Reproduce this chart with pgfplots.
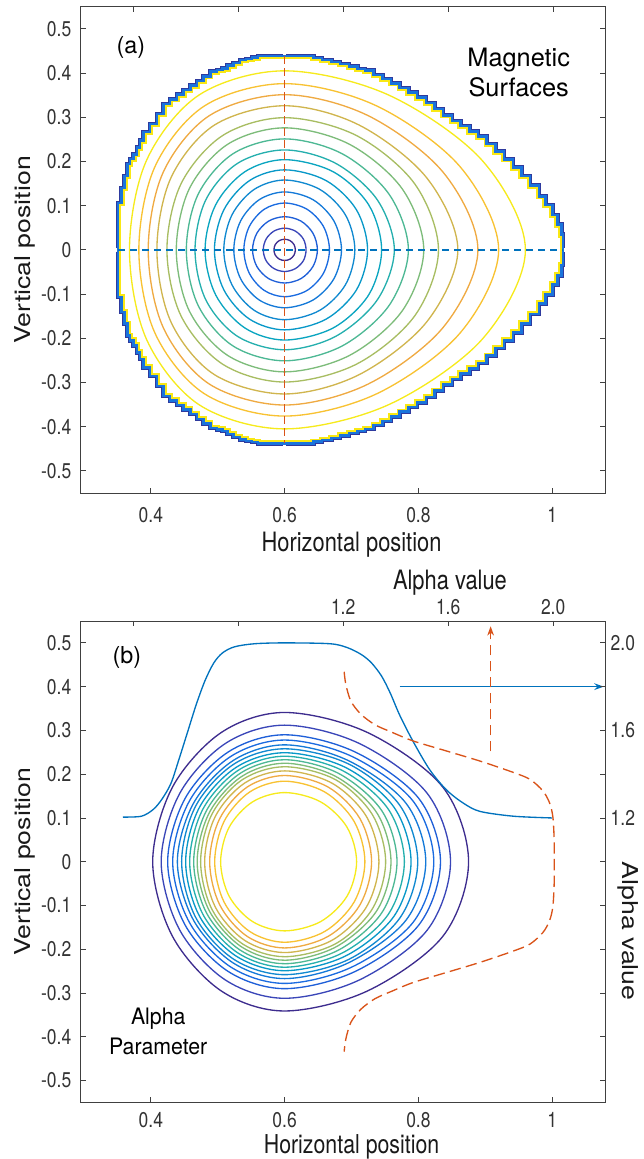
\documentclass[border=0pt]{standalone}
\usepackage{pgfplots}
\usepackage{pgfplotstable}
\pgfplotsset{compat=1.18}
\usepackage{fontspec}
\setmainfont{TeX Gyre Heros}
\usetikzlibrary{arrows.meta}

\definecolor{c1}{HTML}{3D2C8E}
\definecolor{c2}{HTML}{3A46B8}
\definecolor{c3}{HTML}{1F5FD8}
\definecolor{c4}{HTML}{1A6BE0}
\definecolor{c5}{HTML}{1479D8}
\definecolor{c6}{HTML}{1089D0}
\definecolor{c7}{HTML}{0898C8}
\definecolor{c8}{HTML}{0AA5C0}
\definecolor{c9}{HTML}{25AFAE}
\definecolor{c10}{HTML}{4DB894}
\definecolor{c11}{HTML}{7DBC7A}
\definecolor{c12}{HTML}{A8BD62}
\definecolor{c13}{HTML}{D0B54E}
\definecolor{c14}{HTML}{EFAA42}
\definecolor{c15}{HTML}{F8C232}
\definecolor{c16}{HTML}{F6EA1C}
\definecolor{mblue}{HTML}{0072BD}
\definecolor{mred}{HTML}{D95319}
\definecolor{bndnavy}{HTML}{2E3A9E}
\definecolor{bndblue}{HTML}{1A74DC}
\definecolor{bndyel}{HTML}{F9E814}

% boundary of the magnetic surfaces, four quarters
\pgfplotstableread{
x y
0.351 0
0.356 0.106
0.361 0.14
0.365 0.167
0.369 0.194
0.374 0.205
0.379 0.216
0.384 0.2315
0.389 0.247
0.399 0.266
0.409 0.285
0.419 0.3075
0.429 0.33
0.439 0.3403
0.449 0.3507
0.459 0.361
0.469 0.3715
0.479 0.382
0.489 0.3925
0.499 0.403
0.507 0.4065
0.515 0.41
0.524 0.4163
0.533 0.4227
0.542 0.429
0.551 0.4319
0.56 0.4348
0.57 0.438
0.6 0.438
}\bUL
\pgfplotstableread{
x y
0.351 0
0.356 -0.106
0.361 -0.14
0.365 -0.167
0.369 -0.194
0.374 -0.205
0.379 -0.216
0.384 -0.2315
0.389 -0.247
0.399 -0.266
0.409 -0.285
0.419 -0.3075
0.429 -0.33
0.439 -0.3403
0.449 -0.3507
0.459 -0.361
0.469 -0.3715
0.479 -0.382
0.489 -0.3925
0.499 -0.403
0.507 -0.4065
0.515 -0.41
0.524 -0.4163
0.533 -0.4227
0.542 -0.429
0.551 -0.4319
0.56 -0.4348
0.57 -0.438
0.6 -0.438
}\bLL
\pgfplotstableread{
x y
0.6 0.438
0.63 0.438
0.643 0.4338
0.656 0.4296
0.67 0.425
0.683 0.4198
0.696 0.4146
0.709 0.4094
0.72 0.405
0.733 0.3959
0.746 0.3868
0.759 0.3766
0.772 0.366
0.785 0.3554
0.798 0.3447
0.811 0.3325
0.824 0.3184
0.837 0.3043
0.85 0.2917
0.863 0.2798
0.876 0.2678
0.889 0.2558
0.902 0.2393
0.915 0.222
0.928 0.2047
0.941 0.1864
0.954 0.1666
0.967 0.145
0.98 0.121
0.99 0.101
1.0 0.0785
1.008 0.0573
1.014 0.034
1.016 0
}\bUR
\pgfplotstableread{
x y
0.6 -0.438
0.63 -0.438
0.643 -0.4338
0.656 -0.4296
0.67 -0.425
0.683 -0.4198
0.696 -0.4146
0.709 -0.4094
0.72 -0.405
0.733 -0.3959
0.746 -0.3868
0.759 -0.3766
0.772 -0.366
0.785 -0.3554
0.798 -0.3447
0.811 -0.3325
0.824 -0.3184
0.837 -0.3043
0.85 -0.2917
0.863 -0.2798
0.876 -0.2678
0.889 -0.2558
0.902 -0.2393
0.915 -0.222
0.928 -0.2047
0.941 -0.1864
0.954 -0.1666
0.967 -0.145
0.98 -0.121
0.99 -0.101
1.0 -0.0785
1.008 -0.0573
1.014 -0.034
1.016 0
}\bLR

\pgfplotsset{
  base/.style={
    scale only axis, width=393.75pt,
    clip=false,
    /pgf/number format/assume math mode=true,
    tick label style={font=\fontsize{16}{16}\selectfont, text=black!80, xscale=0.82, inner sep=0pt},
    label style={font=\fontsize{20}{20}\selectfont, text=black!90, inner sep=0pt},
    axis line style={black!75, line width=0.6pt},
    tick style={black!75, line width=0.6pt},
    major tick length=4pt,
    tick align=inside,
  },
  cont/.style={smooth cycle, tension=0.55, line width=1pt, no markers},
  bnav/.style={bndnavy, line width=0.9pt, no markers},
  bblu/.style={bndblue, line width=2pt, no markers},
  byel/.style={bndyel, line width=1.4pt, no markers},
}

\begin{document}
\begin{tikzpicture}
\useasboundingbox (0,0) rectangle (482.25pt,869.25pt);

%================ PANEL (a) =================
\begin{axis}[base, at={(60.5pt,499.5pt)}, anchor=south west, height=364.7pt,
  xmin=0.295, xmax=1.08, ymin=-0.55, ymax=0.55,
  xtick={0.4,0.6,0.8,1}, xtick pos=left,
  ytick={-0.5,-0.4,-0.3,-0.2,-0.1,0,0.1,0.2,0.3,0.4,0.5},
  yticklabels={-0.5,-0.4,-0.3,-0.2,-0.1,0,0.1,0.2,0.3,0.4,0.5},
  xticklabel style={yshift=-10.3pt},
  yticklabel style={xshift=-8.4pt},
  xlabel={Horizontal position},
  xlabel style={at={(axis description cs:0.516,-0.1213)}, anchor=base, xscale=0.82},
  ylabel={Vertical position},
  ylabel style={at={(axis description cs:-0.095,0.5)}, anchor=base, yscale=0.82},
]
\addplot[cont, c1] coordinates {(0.616,0) (0.614,0.012) (0.608,0.021) (0.6,0.024) (0.592,0.021) (0.586,0.012) (0.584,0) (0.586,-0.012) (0.592,-0.021) (0.6,-0.024) (0.608,-0.021) (0.614,-0.012)};
\addplot[cont, c2] coordinates {(0.632,0) (0.628,0.0245) (0.616,0.0424) (0.6,0.049) (0.584,0.0424) (0.5723,0.0245) (0.568,0) (0.5723,-0.0245) (0.584,-0.0424) (0.6,-0.049) (0.616,-0.0424) (0.628,-0.0245)};
\addplot[cont, c3] coordinates {(0.649,0) (0.6424,0.0375) (0.6245,0.065) (0.6,0.075) (0.576,0.065) (0.5584,0.0375) (0.552,0) (0.5584,-0.0375) (0.576,-0.065) (0.6,-0.075) (0.6245,-0.065) (0.6424,-0.0375)};
\addplot[cont, c4] coordinates {(0.667,0) (0.658,0.053) (0.6335,0.0918) (0.6,0.106) (0.5695,0.0918) (0.5472,0.053) (0.539,0) (0.5472,-0.053) (0.5695,-0.0918) (0.6,-0.106) (0.6335,-0.0918) (0.658,-0.053)};
\addplot[cont, c5] coordinates {(0.685,0) (0.6736,0.0655) (0.6425,0.1134) (0.6,0.131) (0.562,0.1134) (0.5342,0.0655) (0.524,0) (0.5342,-0.0655) (0.562,-0.1134) (0.6,-0.131) (0.6425,-0.1134) (0.6736,-0.0655)};
\addplot[cont, c6] coordinates {(0.705,0) (0.6909,0.079) (0.6525,0.1368) (0.6,0.158) (0.5545,0.1368) (0.5212,0.079) (0.509,0) (0.5212,-0.079) (0.5545,-0.1368) (0.6,-0.158) (0.6525,-0.1368) (0.6909,-0.079)};
\addplot[cont, c7] coordinates {(0.724,0) (0.7074,0.0905) (0.662,0.1567) (0.6,0.181) (0.5475,0.1567) (0.5091,0.0905) (0.495,0) (0.5091,-0.0905) (0.5475,-0.1567) (0.6,-0.181) (0.662,-0.1567) (0.7074,-0.0905)};
\addplot[cont, c8] coordinates {(0.745,0) (0.7256,0.102) (0.6725,0.1767) (0.6,0.204) (0.5405,0.1767) (0.4969,0.102) (0.481,0) (0.4969,-0.102) (0.5405,-0.1767) (0.6,-0.204) (0.6725,-0.1767) (0.7256,-0.102)};
\addplot[cont, c9] coordinates {(0.764,0) (0.7386,0.113) (0.6763,0.1957) (0.6,0.226) (0.5296,0.1957) (0.4821,0.113) (0.466,0) (0.4821,-0.113) (0.5296,-0.1957) (0.6,-0.226) (0.6763,-0.1957) (0.7386,-0.113)};
\addplot[cont, c10] coordinates {(0.785,0) (0.7563,0.1255) (0.686,0.2174) (0.6,0.251) (0.5228,0.2174) (0.4706,0.1255) (0.453,0) (0.4706,-0.1255) (0.5228,-0.2174) (0.6,-0.251) (0.686,-0.2174) (0.7563,-0.1255)};
\addplot[cont, c11] coordinates {(0.808,0) (0.7758,0.138) (0.6967,0.239) (0.6,0.276) (0.515,0.239) (0.4574,0.138) (0.438,0) (0.4574,-0.138) (0.515,-0.239) (0.6,-0.276) (0.6967,-0.239) (0.7758,-0.138)};
\addplot[cont, c12] coordinates {(0.83,0) (0.7944,0.1495) (0.707,0.2589) (0.6,0.299) (0.5076,0.2589) (0.4451,0.1495) (0.424,0) (0.4451,-0.1495) (0.5076,-0.2589) (0.6,-0.299) (0.707,-0.2589) (0.7944,-0.1495)};
\addplot[cont, c13] coordinates {(0.859,0) (0.8124,0.163) (0.7114,0.2823) (0.6,0.326) (0.495,0.2823) (0.43,0.163) (0.409,0) (0.43,-0.163) (0.495,-0.2823) (0.6,-0.326) (0.7114,-0.2823) (0.8124,-0.163)};
\addplot[cont, c14] coordinates {(0.889,0) (0.837,0.1755) (0.7243,0.304) (0.6,0.351) (0.4878,0.304) (0.4184,0.1755) (0.396,0) (0.4184,-0.1755) (0.4878,-0.304) (0.6,-0.351) (0.7243,-0.304) (0.837,-0.1755)};
\addplot[cont, c15] coordinates {(0.92,0) (0.8624,0.188) (0.7376,0.3256) (0.6,0.376) (0.4801,0.3256) (0.406,0.188) (0.382,0) (0.406,-0.188) (0.4801,-0.3256) (0.6,-0.376) (0.7376,-0.3256) (0.8624,-0.188)};
\addplot[cont, c16] coordinates {(0.96,0) (0.8952,0.2025) (0.7548,0.3507) (0.6,0.405) (0.4724,0.3507) (0.3935,0.2025) (0.368,0) (0.3935,-0.2025) (0.4724,-0.3507) (0.6,-0.405) (0.7548,-0.3507) (0.8952,-0.2025)};
% jagged boundary band: navy outside, blue, yellow inside
\addplot[bnav, const plot mark right, xshift=-1.3pt, yshift=1.3pt] table {\bUL};
\addplot[bnav, const plot mark right, xshift=-1.3pt, yshift=-1.3pt] table {\bLL};
\addplot[bnav, const plot mark left, xshift=1.3pt, yshift=1.3pt] table {\bUR};
\addplot[bnav, const plot mark left, xshift=1.3pt, yshift=-1.3pt] table {\bLR};
\addplot[bblu, const plot mark right] table {\bUL};
\addplot[bblu, const plot mark right] table {\bLL};
\addplot[bblu, const plot mark left] table {\bUR};
\addplot[bblu, const plot mark left] table {\bLR};
\addplot[byel, const plot mark right, xshift=1.6pt, yshift=-1.6pt] table {\bUL};
\addplot[byel, const plot mark right, xshift=1.6pt, yshift=1.6pt] table {\bLL};
\addplot[byel, const plot mark left, xshift=-1.6pt, yshift=-1.6pt] table {\bUR};
\addplot[byel, const plot mark left, xshift=-1.6pt, yshift=1.6pt] table {\bLR};
% dashed guide lines
\addplot[mblue, line width=1pt, dash pattern=on 5.5pt off 3.5pt, no markers] coordinates {(0.351,0) (1.016,0)};
\addplot[mred, line width=1pt, dash pattern=on 5.5pt off 3.5pt, no markers] coordinates {(0.6,0.438) (0.6,-0.438)};
\node[font=\fontsize{17.5}{17.5}\selectfont, anchor=base] at (axis cs:0.370,0.4434) {(a)};
\node[font=\fontsize{19}{19}\selectfont, anchor=base] at (axis cs:0.950,0.414) {Magnetic};
\node[font=\fontsize{19}{19}\selectfont, anchor=base] at (axis cs:0.950,0.346) {Surfaces};
\end{axis}
% top ticks of panel (a)
\begin{axis}[base, at={(60.5pt,499.5pt)}, anchor=south west, height=364.7pt,
  xmin=0.2, xmax=2.2, ymin=-0.55, ymax=0.55,
  axis x line*=top, axis y line=none,
  xtick={0.4,0.8,1.2,1.6,2.0}, xticklabels={}, ytick=\empty]
\end{axis}

%================ PANEL (b) =================
\begin{axis}[base, at={(60.5pt,42.4pt)}, anchor=south west, height=361.1pt,
  xmin=0.295, xmax=1.08, ymin=-0.55, ymax=0.55,
  xtick={0.4,0.6,0.8,1}, xtick pos=left,
  ytick={-0.5,-0.4,-0.3,-0.2,-0.1,0,0.1,0.2,0.3,0.4,0.5}, ytick pos=left,
  yticklabels={-0.5,-0.4,-0.3,-0.2,-0.1,0,0.1,0.2,0.3,0.4,0.5},
  xticklabel style={yshift=-7pt},
  yticklabel style={xshift=-8.4pt},
  xlabel={Horizontal position},
  xlabel style={at={(axis description cs:0.516,-0.106)}, anchor=base, xscale=0.82, font=\fontsize{19.5}{19.5}\selectfont},
  ylabel={Vertical position},
  ylabel style={at={(axis description cs:-0.095,0.5)}, anchor=base, yscale=0.82},
]
\addplot[cont, c1] coordinates {(0.875,0) (0.8365,0.1705) (0.7238,0.2953) (0.6,0.341) (0.5053,0.2953) (0.4323,0.1705) (0.4027,0) (0.4323,-0.1705) (0.5053,-0.2953) (0.6,-0.341) (0.7238,-0.2953) (0.8365,-0.1705)};
\addplot[cont, c2] coordinates {(0.848,0) (0.8133,0.156) (0.7116,0.2702) (0.6,0.312) (0.5114,0.2702) (0.4431,0.156) (0.4154,0) (0.4431,-0.156) (0.5114,-0.2702) (0.6,-0.312) (0.7116,-0.2702) (0.8133,-0.156)};
\addplot[cont, c3] coordinates {(0.833,0) (0.8004,0.145) (0.7049,0.2511) (0.6,0.29) (0.516,0.2511) (0.4513,0.145) (0.4251,0) (0.4513,-0.145) (0.516,-0.2511) (0.6,-0.29) (0.7049,-0.2511) (0.8004,-0.145)};
\addplot[cont, c4] coordinates {(0.823,0) (0.7918,0.139) (0.7004,0.2407) (0.6,0.278) (0.5196,0.2407) (0.4577,0.139) (0.4326,0) (0.4577,-0.139) (0.5196,-0.2407) (0.6,-0.278) (0.7004,-0.2407) (0.7918,-0.139)};
\addplot[cont, c5] coordinates {(0.811,0) (0.7815,0.1335) (0.695,0.2312) (0.6,0.267) (0.523,0.2312) (0.4637,0.1335) (0.4396,0) (0.4637,-0.1335) (0.523,-0.2312) (0.6,-0.267) (0.695,-0.2312) (0.7815,-0.1335)};
\addplot[cont, c6] coordinates {(0.799,0) (0.7721,0.129) (0.6955,0.2234) (0.6,0.258) (0.5245,0.2234) (0.4676,0.129) (0.446,0) (0.4676,-0.129) (0.5245,-0.2234) (0.6,-0.258) (0.6955,-0.2234) (0.7721,-0.129)};
\addplot[cont, c7] coordinates {(0.789,0) (0.7635,0.1245) (0.6907,0.2156) (0.6,0.249) (0.5275,0.2156) (0.4727,0.1245) (0.452,0) (0.4727,-0.1245) (0.5275,-0.2156) (0.6,-0.249) (0.6907,-0.2156) (0.7635,-0.1245)};
\addplot[cont, c9] coordinates {(0.779,0) (0.7548,0.1205) (0.6859,0.2087) (0.6,0.241) (0.5304,0.2087) (0.4779,0.1205) (0.458,0) (0.4779,-0.1205) (0.5304,-0.2087) (0.6,-0.241) (0.6859,-0.2087) (0.7548,-0.1205)};
\addplot[cont, c10] coordinates {(0.768,0) (0.7453,0.1165) (0.6806,0.2018) (0.6,0.233) (0.5334,0.2018) (0.483,0.1165) (0.464,0) (0.483,-0.1165) (0.5334,-0.2018) (0.6,-0.233) (0.6806,-0.2018) (0.7453,-0.1165)};
\addplot[cont, c11] coordinates {(0.759,0) (0.7375,0.1125) (0.6763,0.1949) (0.6,0.225) (0.5359,0.1949) (0.4875,0.1125) (0.4692,0) (0.4875,-0.1125) (0.5359,-0.1949) (0.6,-0.225) (0.6763,-0.1949) (0.7375,-0.1125)};
\addplot[cont, c12] coordinates {(0.751,0) (0.7308,0.1085) (0.6755,0.1879) (0.6,0.217) (0.5372,0.1879) (0.4912,0.1085) (0.4744,0) (0.4912,-0.1085) (0.5372,-0.1879) (0.6,-0.217) (0.6755,-0.1879) (0.7308,-0.1085)};
\addplot[cont, c13] coordinates {(0.741,0) (0.7221,0.1038) (0.6705,0.1797) (0.6,0.2075) (0.5402,0.1797) (0.4964,0.1038) (0.4804,0) (0.4964,-0.1038) (0.5402,-0.1797) (0.6,-0.2075) (0.6705,-0.1797) (0.7221,-0.1038)};
\addplot[cont, c14] coordinates {(0.73,0) (0.7126,0.0985) (0.665,0.1706) (0.6,0.197) (0.544,0.1706) (0.5029,0.0985) (0.4879,0) (0.5029,-0.0985) (0.544,-0.1706) (0.6,-0.197) (0.665,-0.1706) (0.7126,-0.0985)};
\addplot[cont, c15] coordinates {(0.72,0) (0.7039,0.092) (0.66,0.1593) (0.6,0.184) (0.5477,0.1593) (0.5094,0.092) (0.4954,0) (0.5094,-0.092) (0.5477,-0.1593) (0.6,-0.184) (0.66,-0.1593) (0.7039,-0.092)};
\addplot[cont, c16] coordinates {(0.7076,0) (0.6932,0.079) (0.6538,0.1368) (0.6,0.158) (0.5521,0.1368) (0.5171,0.079) (0.5043,0) (0.5171,-0.079) (0.5521,-0.1368) (0.6,-0.158) (0.6538,-0.1368) (0.6932,-0.079)};
% alpha profile along horizontal
\addplot[mblue, line width=1pt, smooth, tension=0.5, no markers] coordinates {
(0.358,0.102) (0.386,0.104) (0.404,0.12) (0.417,0.144) (0.43,0.179) (0.442,0.234) (0.455,0.297) (0.468,0.36) (0.481,0.414) (0.494,0.454) (0.507,0.477) (0.525,0.491) (0.555,0.498) (0.6,0.5) (0.668,0.498) (0.694,0.489) (0.715,0.473) (0.73,0.454) (0.745,0.424) (0.758,0.385) (0.772,0.335) (0.792,0.275) (0.817,0.21) (0.842,0.164) (0.867,0.134) (0.892,0.115) (0.942,0.104) (1.0,0.1)};
% alpha profile along vertical
\addplot[mred, line width=1pt, smooth, tension=0.5, dash pattern=on 8.5pt off 4pt, no markers] coordinates {
(0.689,0.434) (0.6915,0.405) (0.699,0.367) (0.714,0.337) (0.735,0.313) (0.76,0.296) (0.792,0.276) (0.842,0.253) (0.892,0.23) (0.942,0.204) (0.967,0.188) (0.986,0.162) (0.996,0.135) (1.001,0.103) (1.003,0.05) (1.003,0)
(1.003,-0.05) (1.001,-0.103) (0.996,-0.135) (0.986,-0.162) (0.967,-0.188) (0.942,-0.204) (0.892,-0.23) (0.842,-0.253) (0.792,-0.276) (0.76,-0.296) (0.735,-0.313) (0.714,-0.337) (0.699,-0.367) (0.6915,-0.405) (0.689,-0.434)};
% arrows
\addplot[mblue, line width=1pt, -{Stealth[length=7pt,width=5pt]}, no markers] coordinates {(0.772,0.4) (1.077,0.4)};
\addplot[mred, line width=1pt, dash pattern=on 8pt off 4pt, -{Stealth[length=7pt,width=5pt]}, no markers] coordinates {(0.908,0.252) (0.908,0.538)};
\node[font=\fontsize{17.5}{17.5}\selectfont, anchor=base] at (axis cs:0.364,0.4538) {(b)};
\node[font=\fontsize{17}{17}\selectfont, anchor=base, xscale=0.94] at (axis cs:0.411,-0.373) {Alpha};
\node[font=\fontsize{17}{17}\selectfont, anchor=base, xscale=0.94] at (axis cs:0.411,-0.4397) {Parameter};
\end{axis}
% alpha axes of panel (b)
\begin{axis}[base, at={(60.5pt,42.4pt)}, anchor=south west, height=361.1pt,
  xmin=0.2, xmax=2.2, ymin=-0.1, ymax=2.1,
  axis x line*=top, axis y line*=right,
  xtick={0.4,0.8,1.2,1.6,2.0}, xticklabels={,,1.2,1.6,2.0},
  ytick={0,0.2,0.4,0.6,0.8,1.0,1.2,1.4,1.6,1.8,2.0},
  yticklabels={,,,,,,1.2,,1.6,,2.0},
  xticklabel style={yshift=4.3pt},
  yticklabel style={xshift=4.4pt},
  xlabel={Alpha value},
  xlabel style={at={(axis description cs:0.7034,1.0658)}, anchor=base, xscale=0.82},
  ylabel={Alpha value},
  ylabel style={at={(axis description cs:1.0425,0.356)}, anchor=center, rotate=180, yscale=0.82},
]
\end{axis}
\end{tikzpicture}
\end{document}
